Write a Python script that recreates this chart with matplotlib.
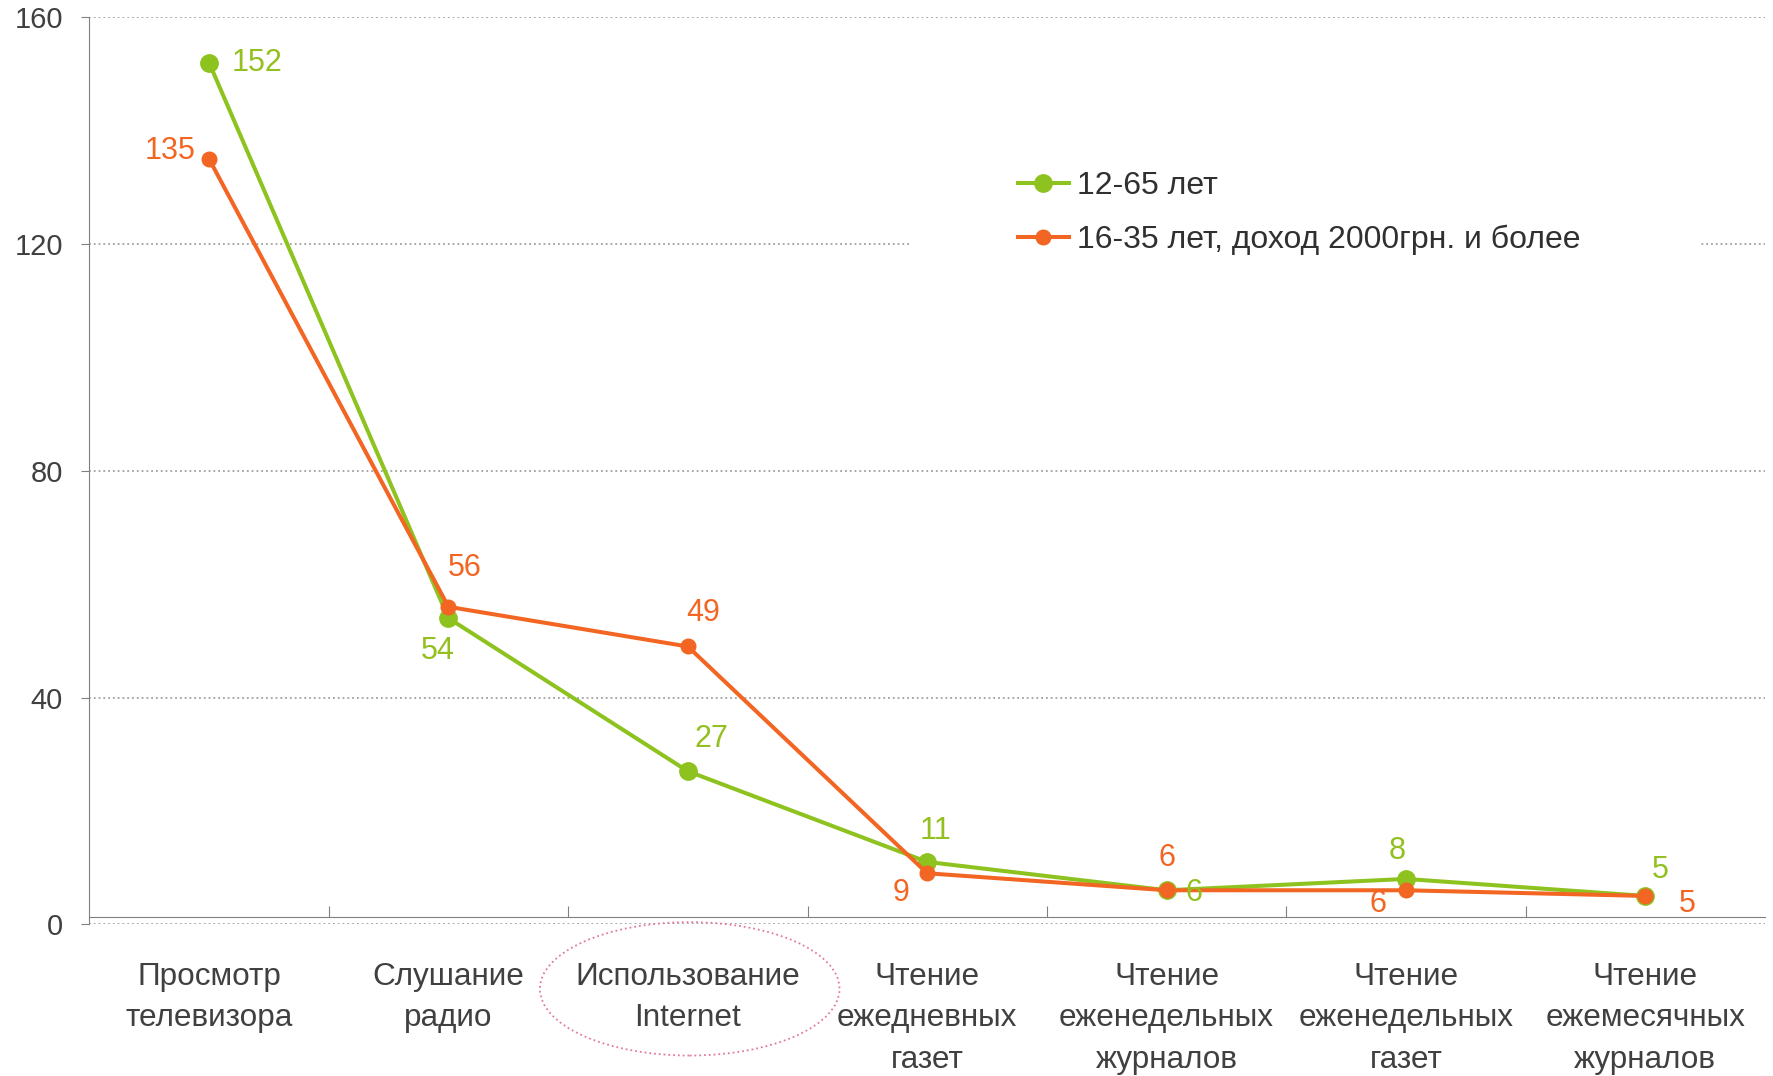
import matplotlib.pyplot as plt
from matplotlib.patches import Ellipse, Rectangle

plt.rcParams['font.family'] = ['Liberation Sans', 'DejaVu Sans']

# data
categories = ['Просмотр\nтелевизора', 'Слушание\nрадио', 'Использование\nInternet',
              'Чтение\nежедневных\nгазет', 'Чтение\nеженедельных\nжурналов',
              'Чтение\nеженедельных\nгазет', 'Чтение\nежемесячных\nжурналов']
all_ages = [152, 54, 27, 11, 6, 8, 5]          # 12-65 лет
young_rich = [135, 56, 49, 9, 6, 6, 5]         # 16-35 лет, доход 2000грн. и более
series_names = ['12-65 лет', '16-35 лет, доход 2000грн. и более']
y_ticks = [0, 40, 80, 120, 160]

green = '#8dc21f'
orange = '#f26522'
txt = '#404040'

# label offsets (points), per point
off_green = [(16, 0), (-8, -24), (17, 23), (6, 22), (20, -2), (-6, 20), (11, 19)]
off_orange = [(-10, 6), (12, 28), (11, 24), (-19, -14), (0, 23), (-20, -10), (30, -6)]

fig = plt.figure(figsize=(17.73, 10.76), dpi=100)
ax = fig.add_axes([0.0504, 0.141, 0.9451, 0.843])

x = list(range(len(categories)))
ax.plot(x, all_ages, color=green, lw=2.9, marker='o', ms=12.5, label=series_names[0], zorder=3, clip_on=False)
ax.plot(x, young_rich, color=orange, lw=2.9, marker='o', ms=10.5, label=series_names[1], zorder=4, clip_on=False)

for i in x:
    ax.annotate(str(all_ages[i]), (i, all_ages[i]), xytext=off_green[i], textcoords='offset points',
                ha='left' if i == 0 else 'center', va='center', fontsize=22, color='#93c01f', zorder=6)
    ax.annotate(str(young_rich[i]), (i, young_rich[i]), xytext=off_orange[i], textcoords='offset points',
                ha='right' if i == 0 else 'center', va='center', fontsize=22, color=orange, zorder=6)

ax.set_xlim(-0.5, len(categories) - 0.5)
ax.set_ylim(0, 160)

# axes look
for s in ['top', 'right']:
    ax.spines[s].set_visible(False)
ax.spines['left'].set_color('#808080')
ax.spines['bottom'].set_color('#808080')
ax.spines['bottom'].set_position(('data', 1.2))

ax.set_yticks(y_ticks)
ax.tick_params(axis='y', length=6, color='#808080', labelsize=21, labelcolor=txt, pad=13)
ax.yaxis.grid(True, linestyle=':', color='#a0a0a0', lw=1.3)
ax.set_axisbelow(True)

ax.set_xticks([i + 0.5 for i in x[:-1]])
ax.set_xticklabels([])
ax.tick_params(axis='x', which='major', direction='in', length=8, color='#808080')
ax.set_xticks(x, minor=True)
ax.set_xticklabels(categories, minor=True, fontsize=22.7, color=txt, linespacing=1.5, va='top')
ax.tick_params(axis='x', which='minor', length=0, pad=32)

# white box behind legend (cuts the 120 gridline)
ax.add_patch(Rectangle((0.49, 0.72), 0.472, 0.137, transform=ax.transAxes,
                       facecolor='white', edgecolor='none', zorder=1.5))
leg = ax.legend(loc='upper left', bbox_to_anchor=(0.554, 0.83), frameon=False, fontsize=23,
                handlelength=1.6, handletextpad=0.27, labelspacing=0.72, borderpad=0, borderaxespad=0)
for t in leg.get_texts():
    t.set_color('#303030')

# dotted ring around "Internet"
fig.patches.append(Ellipse((0.389, 0.081), 0.169, 0.124, transform=fig.transFigure, fill=False,
                           edgecolor='#e27a9c', linestyle=':', lw=1.3))

fig.savefig('out.png', dpi=100)
